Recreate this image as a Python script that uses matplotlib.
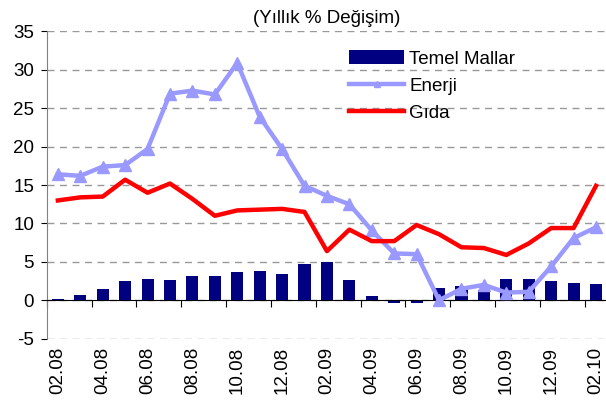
import matplotlib
matplotlib.use("Agg")
import matplotlib.pyplot as plt
import numpy as np

months = ["02.08", "03.08", "04.08", "05.08", "06.08", "07.08", "08.08", "09.08",
          "10.08", "11.08", "12.08", "01.09", "02.09", "03.09", "04.09", "05.09",
          "06.09", "07.09", "08.09", "09.09", "10.09", "11.09", "12.09", "01.10", "02.10"]

temel_mallar = [0.2, 0.7, 1.5, 2.5, 2.8, 2.7, 3.2, 3.2, 3.7, 3.8, 3.4, 4.7, 5.0,
                2.7, 0.6, -0.4, -0.3, 1.6, 1.9, 1.4, 2.8, 2.8, 2.5, 2.3, 2.1]
enerji = [16.4, 16.2, 17.4, 17.6, 19.7, 26.9, 27.3, 26.8, 30.9, 23.9, 19.7, 14.9, 13.6,
          12.5, 9.1, 6.1, 6.0, 0.0, 1.5, 2.0, 1.0, 1.1, 4.4, 8.1, 9.5]
gida = [13.0, 13.4, 13.5, 15.7, 14.0, 15.2, 13.2, 11.0, 11.7, 11.8, 11.9, 11.5, 6.4,
        9.2, 7.7, 7.7, 9.8, 8.6, 6.9, 6.8, 5.9, 7.4, 9.4, 9.4, 14.9]

plt.rcParams['font.family'] = ['Liberation Sans', 'DejaVu Sans']
plt.rcParams['axes.unicode_minus'] = False

fig = plt.figure(figsize=(6.06, 4.09), dpi=100)
ax = fig.add_axes([0.077, 0.172, 0.925, 0.751])

x = np.arange(len(months))

bars = ax.bar(x, temel_mallar, width=0.54, color='#000080', label='Temel Mallar', zorder=2)
l1, = ax.plot(x, enerji, color='#9999FF', lw=3.2, marker='^', markersize=8,
              label='Enerji', zorder=3)
l2, = ax.plot(x, gida, color='#FF0000', lw=3.2, label='Gıda', zorder=4)

ax.set_xlim(-0.5, len(months) - 0.5)
ax.set_ylim(-5, 35)
ax.set_yticks(range(-5, 36, 5))
ax.yaxis.grid(True, color='#999999', linestyle=(0, (5, 4)), lw=1)
ax.set_axisbelow(True)

for s in ['top', 'right']:
    ax.spines[s].set_visible(False)
ax.spines['left'].set_color('#808080')
ax.spines['bottom'].set_position(('data', 0))
ax.spines['bottom'].set_color('black')

# ticks between categories on the zero line
ax.set_xticks(np.arange(-0.5, len(months) - 1, 2))
ax.set_xticklabels([])
ax.tick_params(axis='x', direction='out', length=5, color='black')
ax.tick_params(axis='y', direction='out', length=4, color='black',
               labelsize=13.5, pad=5)

# month labels below the plot
sec = ax.secondary_xaxis('bottom')
sec.spines['bottom'].set_visible(False)
sec.set_xticks(x[::2])
sec.set_xticklabels(months[::2], rotation=90, fontsize=13.5)
sec.tick_params(length=0, pad=6)

ax.set_title('(Yıllık % Değişim)', fontsize=13.5, pad=6)

ax.legend([bars, l1, l2], ['Temel Mallar', 'Enerji', 'Gıda'],
          loc='upper left', bbox_to_anchor=(0.54, 0.94), frameon=False,
          fontsize=13.5, handlelength=2.9, handletextpad=0.3, labelspacing=0.5,
          handleheight=0.8, markerscale=0.6, borderpad=0, borderaxespad=0)

fig.savefig('out.png', dpi=100)
